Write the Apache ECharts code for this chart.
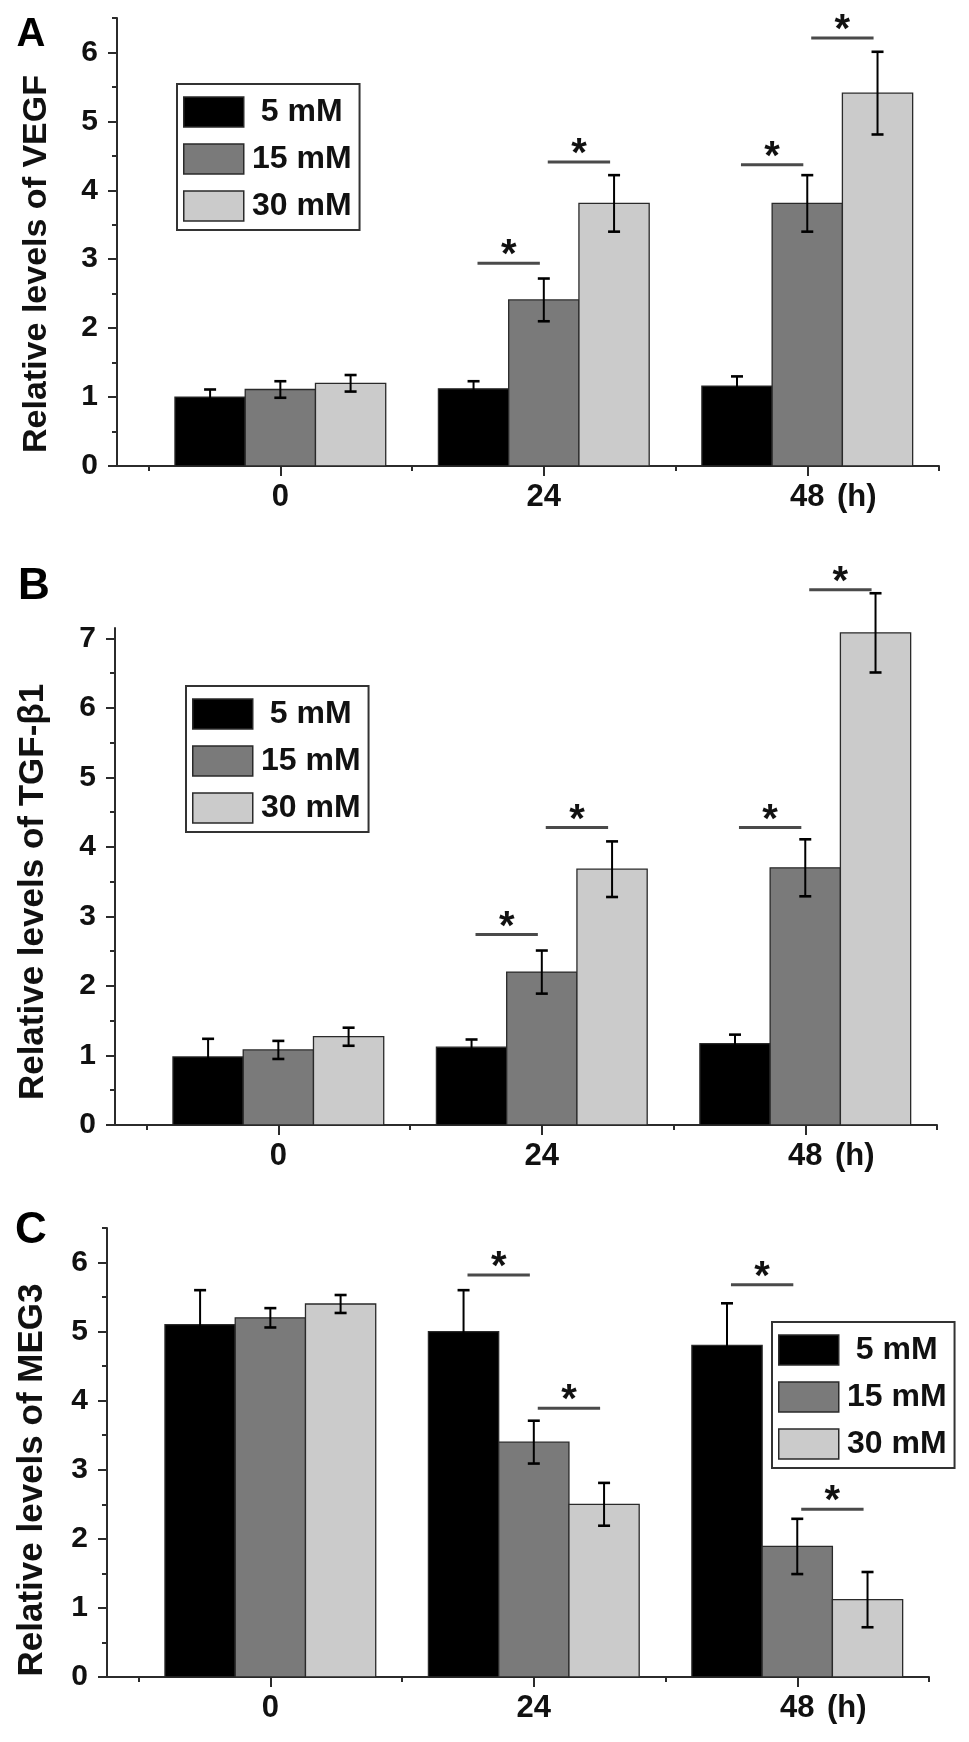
<!DOCTYPE html>
<html>
<head>
<meta charset="utf-8">
<script src="https://cdn.jsdelivr.net/npm/echarts@6/dist/echarts.min.js"></script>
<style>
html,body{margin:0;padding:0;background:#fff}
#chart{width:969px;height:1742px}
</style>
</head>
<body>
<div id="chart"></div>
<script>
// ---------- data ----------
const hours = ['0', '24', '48'];
const concentrations = ['5 mM', '15 mM', '30 mM'];

// Panel A: VEGF
const vegf5mM = [1.00, 1.12, 1.16];
const vegf15mM = [1.11, 2.41, 3.81];
const vegf30mM = [1.20, 3.81, 5.41];
const vegf5mMErr = [0.11, 0.11, 0.14];
const vegf15mMErr = [0.12, 0.31, 0.41];
const vegf30mMErr = [0.12, 0.41, 0.60];
// [hour index, from bar, to bar, bracket height]
const vegfSig = [[1, 0, 1, 2.94], [1, 1, 2, 4.41], [2, 0, 1, 4.37], [2, 1, 2, 6.21]];

// Panel B: TGF-β1
const tgf5mM = [0.98, 1.12, 1.17];
const tgf15mM = [1.08, 2.20, 3.70];
const tgf30mM = [1.27, 3.68, 7.08];
const tgf5mMErr = [0.26, 0.11, 0.13];
const tgf15mMErr = [0.13, 0.31, 0.41];
const tgf30mMErr = [0.13, 0.40, 0.57];
const tgfSig = [[1, 0, 1, 2.74], [1, 1, 2, 4.28], [2, 0, 1, 4.28], [2, 1, 2, 7.70]];

// Panel C: MEG3
const meg5mM = [5.10, 5.00, 4.80];
const meg15mM = [5.20, 3.40, 1.89];
const meg30mM = [5.40, 2.50, 1.12];
const meg5mMErr = [0.50, 0.60, 0.61];
const meg15mMErr = [0.14, 0.31, 0.40];
const meg30mMErr = [0.13, 0.31, 0.40];
const megSig = [[1, 0, 1, 5.82], [1, 1, 2, 3.89], [2, 0, 1, 5.68], [2, 1, 2, 2.43]];

const yTicksA = [0, 1, 2, 3, 4, 5, 6];
const yTicksB = [0, 1, 2, 3, 4, 5, 6, 7];
const yTicksC = [0, 1, 2, 3, 4, 5, 6];

// ---------- styling / layout ----------
const FONT = '"Liberation Sans", Arial, Helvetica, sans-serif';
const barColors = ['#000000', '#7a7a7a', '#cbcbcb'];
const AXIS_COLOR = '#2b2b2b';
const BAR_W = 0.8 / 3;

const panels = [
  { letter: 'A', title: 'Relative levels of VEGF', means: [vegf5mM, vegf15mM, vegf30mM], errs: [vegf5mMErr, vegf15mMErr, vegf30mMErr], sig: vegfSig, ticks: yTicksA, yMax: 6.5,
    grid: { left: 117, top: 18, width: 822, height: 448 }, titlePos: [37, 264], titleSize: 34,
    legend: { left: 177, top: 84 }, letterPos: [31, 35], letterSize: 40 },
  { letter: 'B', title: 'Relative levels of TGF-β1', means: [tgf5mM, tgf15mM, tgf30mM], errs: [tgf5mMErr, tgf15mMErr, tgf30mMErr], sig: tgfSig, ticks: yTicksB, yMax: 7.15,
    grid: { left: 115, top: 628, width: 822, height: 497 }, titlePos: [33, 892], titleSize: 35,
    legend: { left: 186, top: 686 }, letterPos: [34, 587], letterSize: 44 },
  { letter: 'C', title: 'Relative levels of MEG3', means: [meg5mM, meg15mM, meg30mM], errs: [meg5mMErr, meg15mMErr, meg30mMErr], sig: megSig, ticks: yTicksC, yMax: 6.5,
    grid: { left: 107, top: 1228, width: 822, height: 449 }, titlePos: [32, 1480], titleSize: 35,
    legend: { left: 772, top: 1322 }, letterPos: [31, 1231], letterSize: 44 }
];

const X_MIN = -0.62, X_MAX = 2.5;
const xMajor = [0, 1, 2];
const xMinor = [-0.5, 0.5, 1.5, 2.5];

const grids = [], xAxes = [], yAxes = [], series = [], legends = [], graphics = [];

panels.forEach((p, pi) => {
  grids.push(Object.assign({ containLabel: false }, p.grid));
  const xi = xAxes.length, yi = yAxes.length;
  xAxes.push({
    type: 'value', gridIndex: pi, min: X_MIN, max: X_MAX, position: 'bottom',
    axisLine: { show: true, onZero: false, lineStyle: { color: AXIS_COLOR, width: 2 } },
    axisTick: { show: true, customValues: xMajor, length: 10, inside: false, lineStyle: { color: AXIS_COLOR, width: 2 } },
    axisLabel: {
      show: true, customValues: xMajor, margin: 16, color: '#111', fontFamily: FONT, fontSize: 31, fontWeight: 'bold',
      formatter: v => {
        const i = Math.round(v);
        return i === 2 ? '{p| }' + hours[i] + '{h|(h)}' : hours[i];
      },
      rich: {
        p: { width: 52, fontSize: 31, fontFamily: FONT, fontWeight: 'bold' },
        h: { width: 52, align: 'right', fontSize: 31, fontFamily: FONT, fontWeight: 'bold', color: '#111' }
      }
    },
    splitLine: { show: false }
  });
  xAxes.push({
    type: 'value', gridIndex: pi, min: X_MIN, max: X_MAX, position: 'bottom',
    axisLine: { show: false, onZero: false }, axisLabel: { show: false }, splitLine: { show: false },
    axisTick: { show: true, customValues: xMinor, length: 5, lineStyle: { color: AXIS_COLOR, width: 2 } }
  });
  const minorY = [];
  for (let v = 0.5; v <= p.yMax + 1e-9; v += 1) minorY.push(v);
  yAxes.push({
    type: 'value', gridIndex: pi, min: 0, max: p.yMax, position: 'left',
    axisLine: { show: true, onZero: false, lineStyle: { color: AXIS_COLOR, width: 2 } },
    axisTick: { show: true, customValues: p.ticks, length: 9, lineStyle: { color: AXIS_COLOR, width: 2 } },
    axisLabel: { show: true, customValues: p.ticks, margin: 19, color: '#111', fontFamily: FONT, fontSize: 30, fontWeight: 'bold' },
    splitLine: { show: false }
  });
  yAxes.push({
    type: 'value', gridIndex: pi, min: 0, max: p.yMax, position: 'left',
    axisLine: { show: false, onZero: false }, axisLabel: { show: false }, splitLine: { show: false },
    axisTick: { show: true, customValues: minorY, length: 5, lineStyle: { color: AXIS_COLOR, width: 2 } }
  });

  // bars
  p.means.forEach((vals, si) => {
    series.push({
      type: 'custom', name: concentrations[si], xAxisIndex: xi, yAxisIndex: yi, clip: false, z: 2,
      itemStyle: { color: barColors[si], borderColor: '#2a2a2a', borderWidth: 1.3 },
      encode: { x: 0, y: 1 },
      data: vals.map((v, hi) => [hi, v]),
      renderItem: (params, api) => {
        const c = api.value(0) + (si - 1) * BAR_W;
        const tl = api.coord([c - BAR_W / 2, api.value(1)]);
        const br = api.coord([c + BAR_W / 2, 0]);
        return {
          type: 'rect',
          shape: { x: tl[0], y: tl[1], width: br[0] - tl[0], height: br[1] - tl[1] },
          style: { fill: barColors[si], stroke: '#2a2a2a', lineWidth: 1.3 }
        };
      }
    });
  });
  // error bars
  const errData = [];
  p.means.forEach((vals, si) => vals.forEach((v, hi) => errData.push([hi, si, v, p.errs[si][hi]])));
  series.push({
    type: 'custom', xAxisIndex: xi, yAxisIndex: yi, clip: false, z: 3, silent: true,
    encode: { x: 0, y: 2 },
    data: errData,
    renderItem: (params, api) => {
      const c = api.value(0) + (api.value(1) - 1) * BAR_W;
      const m = api.value(2), e = api.value(3);
      const top = api.coord([c, m + e]);
      const bot = api.coord([c, m - e]);
      const cap = 6;
      return {
        type: 'group',
        children: [
          { type: 'line', shape: { x1: top[0], y1: top[1], x2: bot[0], y2: bot[1] }, style: { stroke: '#000', lineWidth: 2 } },
          { type: 'line', shape: { x1: top[0] - cap, y1: top[1], x2: top[0] + cap, y2: top[1] }, style: { stroke: '#000', lineWidth: 2.6 } },
          { type: 'line', shape: { x1: bot[0] - cap, y1: bot[1], x2: bot[0] + cap, y2: bot[1] }, style: { stroke: '#000', lineWidth: 2.6 } }
        ]
      };
    }
  });
  // significance brackets
  series.push({
    type: 'custom', xAxisIndex: xi, yAxisIndex: yi, clip: false, z: 4, silent: true,
    encode: { x: 0, y: 3 },
    data: p.sig,
    renderItem: (params, api) => {
      const h = api.value(0), a = api.value(1), b = api.value(2), y = api.value(3);
      const xa = h + (a - 1) * BAR_W + 0.015;
      const xb = h + (b - 1) * BAR_W - 0.015;
      const p1 = api.coord([xa, y]);
      const p2 = api.coord([xb, y]);
      return {
        type: 'group',
        children: [
          { type: 'line', shape: { x1: p1[0], y1: p1[1], x2: p2[0], y2: p2[1] }, style: { stroke: '#4a4a4a', lineWidth: 3 } },
          { type: 'text', x: (p1[0] + p2[0]) / 2, y: p1[1] - 7,
            style: { text: '*', fontFamily: FONT, fontSize: 40, fontWeight: 'bold', fill: '#111', align: 'center', verticalAlign: 'middle' } }
        ]
      };
    }
  });

  legends.push({
    left: p.legend.left, top: p.legend.top, orient: 'vertical', icon: 'rect',
    itemWidth: 60, itemHeight: 30, itemGap: 15, selectedMode: false,
    padding: [12, 8, 8, 6], borderColor: '#333', borderWidth: 2, backgroundColor: '#fff',
    data: concentrations.map((n, i) => ({ name: n, itemStyle: { color: barColors[i], borderColor: '#2a2a2a', borderWidth: 1.5 } })),
    formatter: n => '{t|' + n + '}',
    textStyle: { rich: { t: { width: 106, align: 'center', fontSize: 32, fontWeight: 'bold', fontFamily: FONT, color: '#111' } } }
  });

  graphics.push({
    type: 'text', x: p.letterPos[0], y: p.letterPos[1],
    style: { text: p.letter, fontFamily: FONT, fontSize: p.letterSize, fontWeight: 'bold', fill: '#000', align: 'center', verticalAlign: 'middle' }
  });
  // y-axis title
  graphics.push({
    type: 'text', x: p.titlePos[0], y: p.titlePos[1], rotation: Math.PI / 2,
    style: { text: p.title, fontFamily: FONT, fontSize: p.titleSize, fontWeight: 'bold', fill: '#111', align: 'center', verticalAlign: 'middle' }
  });
});

const chart = echarts.init(document.getElementById('chart'), null, { renderer: 'canvas' });
chart.setOption({
  animation: false,
  backgroundColor: '#fff',
  grid: grids,
  xAxis: xAxes,
  yAxis: yAxes,
  legend: legends,
  graphic: graphics,
  series: series
});
</script>
</body>
</html>
